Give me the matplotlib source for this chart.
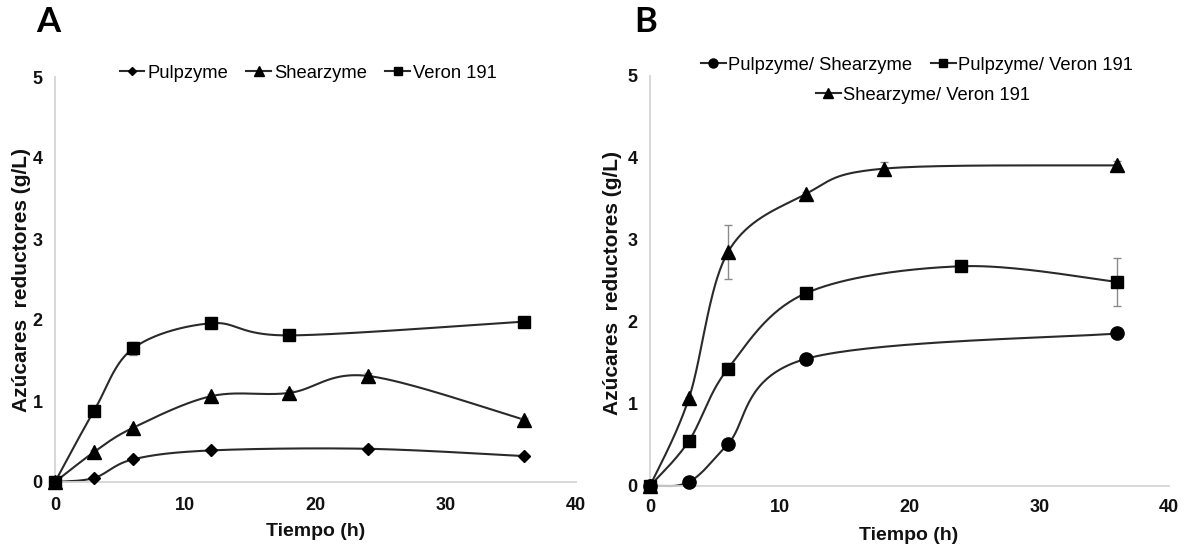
import numpy as np
import matplotlib
matplotlib.use("Agg")
import matplotlib.pyplot as plt
from matplotlib.lines import Line2D

# ---------------- data ----------------
# Panel A
a_pulp_t = [0, 3, 6, 12, 24, 36]
a_pulp_y = [0.0, 0.05, 0.28, 0.39, 0.41, 0.32]
a_pulp_e = [0.0, 0.01, 0.02, 0.02, 0.04, 0.02]

a_shear_t = [0, 3, 6, 12, 18, 24, 36]
a_shear_y = [0.0, 0.37, 0.67, 1.06, 1.10, 1.31, 0.77]
a_shear_e = [0.0, 0.02, 0.02, 0.03, 0.03, 0.03, 0.02]

a_veron_t = [0, 3, 6, 12, 18, 36]
a_veron_y = [0.0, 0.88, 1.65, 1.96, 1.81, 1.98]
a_veron_e = [0.0, 0.03, 0.08, 0.04, 0.02, 0.03]

# Panel B
b_ps_t = [0, 3, 6, 12, 36]
b_ps_y = [0.0, 0.05, 0.51, 1.55, 1.86]
b_ps_e = [0.0, 0.01, 0.02, 0.03, 0.03]

b_pv_t = [0, 3, 6, 12, 24, 36]
b_pv_y = [0.0, 0.55, 1.43, 2.35, 2.68, 2.49]
b_pv_e = [0.0, 0.02, 0.07, 0.03, 0.03, 0.29]

b_sv_t = [0, 3, 6, 12, 18, 36]
b_sv_y = [0.0, 1.07, 2.85, 3.56, 3.87, 3.91]
b_sv_e = [0.0, 0.02, 0.33, 0.03, 0.08, 0.05]

legend_a = ["Pulpzyme", "Shearzyme", "Veron 191"]
legend_b = ["Pulpzyme/ Shearzyme", "Pulpzyme/ Veron 191", "Shearzyme/ Veron 191"]
xticks = [0, 10, 20, 30, 40]
yticks = [0, 1, 2, 3, 4, 5]
xlabel = "Tiempo (h)"
ylabel = "Azúcares  reductores (g/L)"

# ---------------- style ----------------
REG = ["Liberation Sans", "DejaVu Sans"]
LINE_C = "#2a2a2a"
SPINE_C = "#d4d4d4"

W, H = 1194, 555
fig = plt.figure(figsize=(W / 100, H / 100), dpi=100)


def px_axes(l, r, t, b):
    return fig.add_axes([l / W, 1 - b / H, (r - l) / W, (b - t) / H])


def smooth(ax, t, y):
    """Excel-like smoothed line (Catmull-Rom as Bezier) in display space."""
    pts = ax.transData.transform(np.column_stack([t, y]))
    n = len(pts)
    out = []
    ss = np.linspace(0, 1, 40)
    for i in range(n - 1):
        p0 = pts[max(i - 1, 0)]
        p1 = pts[i]
        p2 = pts[i + 1]
        p3 = pts[min(i + 2, n - 1)]
        c1 = p1 + (p2 - p0) / 6.0
        c2 = p2 - (p3 - p1) / 6.0
        for s in (ss[:-1] if i < n - 2 else ss):
            b = ((1 - s) ** 3) * p1 + 3 * ((1 - s) ** 2) * s * c1 + 3 * (1 - s) * s * s * c2 + s ** 3 * p2
            out.append(b)
    out = np.array(out)
    data = ax.transData.inverted().transform(out)
    data[:, 1] = np.maximum(data[:, 1], 0)
    ax.plot(data[:, 0], data[:, 1], color=LINE_C, lw=1.5, zorder=2, clip_on=False)


def series(ax, t, y, e, marker, ms):
    smooth(ax, t, y)
    ax.errorbar(t, y, yerr=e, fmt="none", ecolor="#8a8a8a", elinewidth=1.0,
                capsize=3, capthick=1.0, zorder=3, clip_on=False)
    ax.plot(t, y, linestyle="none", marker=marker, ms=ms, color="black",
            mec="black", zorder=4, clip_on=False)


def style_axes(ax, xpad):
    ax.set_xlim(0, 40)
    ax.set_ylim(0, 5)
    ax.set_xticks(xticks)
    ax.set_yticks(yticks)
    for s in ["top", "right"]:
        ax.spines[s].set_visible(False)
    for s in ["left", "bottom"]:
        ax.spines[s].set_color(SPINE_C)
        ax.spines[s].set_linewidth(1.3)
    ax.tick_params(axis="both", length=0)
    ax.tick_params(axis="y", pad=9)
    ax.tick_params(axis="x", pad=xpad)
    for lab in ax.get_xticklabels() + ax.get_yticklabels():
        lab.set_family(REG)
        lab.set_fontweight("bold")
        lab.set_fontsize(13)
        lab.set_color("#111111")


# ---------------- Panel A ----------------
axA = px_axes(55, 576, 77, 482)
style_axes(axA, 11)
series(axA, a_veron_t, a_veron_y, a_veron_e, "s", 9)
series(axA, a_shear_t, a_shear_y, a_shear_e, "^", 9.5)
series(axA, a_pulp_t, a_pulp_y, a_pulp_e, "D", 6.5)

# ---------------- Panel B ----------------
axB = px_axes(650, 1169, 76, 486)
style_axes(axB, 9)
series(axB, b_sv_t, b_sv_y, b_sv_e, "^", 9.5)
series(axB, b_pv_t, b_pv_y, b_pv_e, "s", 9)
series(axB, b_ps_t, b_ps_y, b_ps_e, "o", 9.5)


def handle(marker, ms):
    return Line2D([], [], color=LINE_C, lw=1.5, marker=marker, ms=ms,
                  mfc="black", mec="black")


leg_kw = dict(frameon=False, handlelength=1.35, handletextpad=0.15,
              columnspacing=1.0, borderpad=0, borderaxespad=0,
              prop={"family": REG, "size": 13.2})

fig.legend([handle("D", 4.5), handle("^", 6.5), handle("s", 6)], legend_a,
           loc="center", bbox_to_anchor=(308 / W, 1 - 73 / H), ncol=3, **leg_kw)

fig.legend([handle("o", 6.5), handle("s", 6)], legend_b[:2],
           loc="center", bbox_to_anchor=(917 / W, 1 - 65 / H), ncol=2, **leg_kw)
fig.legend([handle("^", 6.5)], legend_b[2:],
           loc="center", bbox_to_anchor=(923 / W, 1 - 95 / H), ncol=1, **leg_kw)

# ---------------- labels ----------------
fig.text(22 / W, 1 - 280 / H, ylabel, rotation=90, ha="center", va="center",
         family=REG, fontweight="bold", fontsize=15, color="#111111")
fig.text(612 / W, 1 - 283 / H, ylabel, rotation=90, ha="center", va="center",
         family=REG, fontweight="bold", fontsize=15, color="#111111")
fig.text(316 / W, 1 - 531 / H, xlabel, ha="center", va="center",
         family=REG, fontweight="bold", fontsize=14, color="#111111")
fig.text(909 / W, 1 - 536 / H, xlabel, ha="center", va="center",
         family=REG, fontweight="bold", fontsize=14, color="#111111")

fig.text(48 / W, 1 - 22 / H, "A", ha="center", va="center",
         family=["Lato", "DejaVu Sans"], fontweight="bold", fontsize=25)
fig.text(646 / W, 1 - 22 / H, "B", ha="center", va="center",
         family=["Lato", "DejaVu Sans"], fontweight="bold", fontsize=25)

fig.savefig("out.png", dpi=100, facecolor="white")
